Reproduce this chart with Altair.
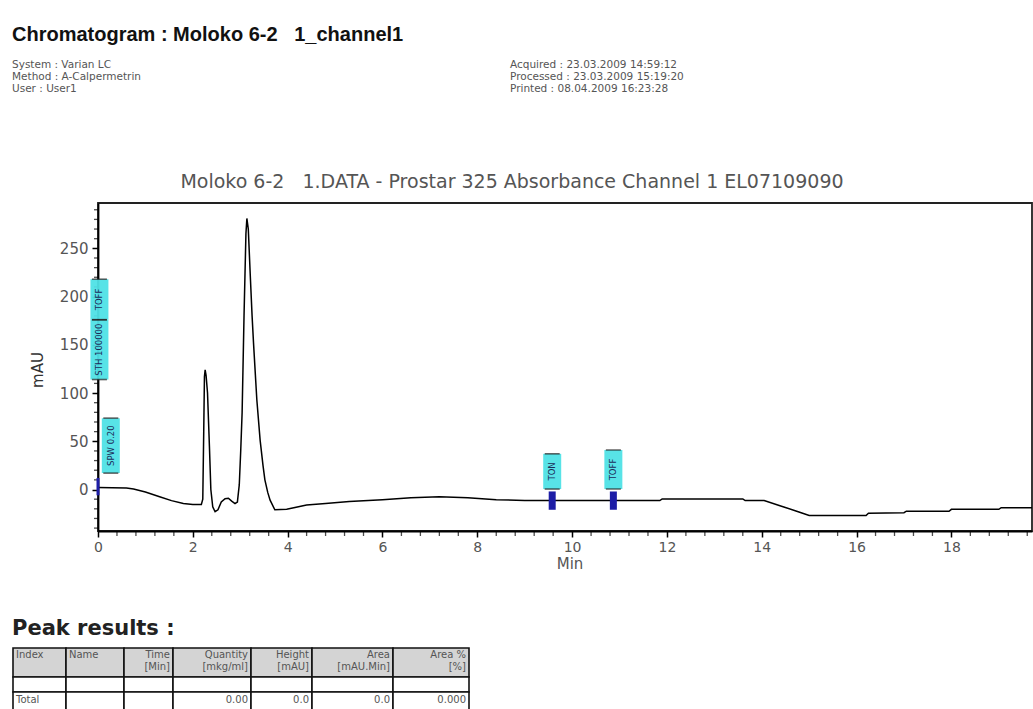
import altair as alt
import numpy as np
import pandas as pd

# ---- chromatogram trace: retention time (min) and absorbance (mAU)
time_min = [0.00, 0.60, 0.75, 1.00, 1.30, 1.55, 1.80, 2.00,
            2.18, 2.21, 2.23, 2.245, 2.26, 2.28, 2.31, 2.35, 2.38, 2.42,
            2.47, 2.53, 2.60, 2.68, 2.75, 2.82, 2.89, 2.94, 2.98, 3.01,
            3.04, 3.08, 3.12, 3.14, 3.17, 3.21, 3.25, 3.28, 3.35, 3.42,
            3.48, 3.52, 3.58, 3.63, 3.73, 3.98, 4.40, 4.80, 5.30, 6.00,
            6.60, 7.20, 7.80, 8.40, 9.00, 11.85, 11.90, 13.60, 13.65, 14.05,
            14.40, 14.80, 15.00, 16.20, 16.25, 17.00, 17.05, 17.95, 18.00, 19.00,
            19.05, 19.70]
signal_mau = [2, 1.5, 0.5, -2.5, -7.5, -11.5, -14.5, -15.5,
              -15.5, -10, 60, 117, 124, 118, 100, 45, 0, -18,
              -23, -21, -13, -9.5, -9, -12, -14.5, -13, 5, 40,
              80, 180, 265, 281, 270, 224, 180, 152, 93, 51,
              25, 10, -3, -11, -21, -20.5, -16, -14.5, -12.5, -10.5,
              -8.5, -7.5, -8.5, -10.5, -11.5, -11.5, -9.7, -9.7, -11.5, -11.5,
              -17, -23.5, -27, -27, -24.5, -24, -22.5, -22.5, -20.5, -20.5,
              -18.8, -18.8]

# ---- timed integration events and the span of their label boxes (mAU)
event_time = [0.03, 0.03, 0.27, 9.58, 10.87]
event_label = ["TOFF", "STH 100000", "SPW 0.20", "TON", "TOFF"]
event_lo = [176, 114, 17, 0.5, 0.5]
event_hi = [218, 176, 74, 37, 41]

# event markers drawn on the baseline
marker_time = [0.0, 9.58, 10.87]
marker_lo = [-6, -21, -21]
marker_hi = [12, -2, -2]
marker_width = [3, 7, 7]

# ---- axes
x_ticks = [0, 2, 4, 6, 8, 10, 12, 14, 16, 18]
y_ticks = [0, 50, 100, 150, 200, 250]
X_DOMAIN = [0, 19.7]
Y_DOMAIN = [-43, 297]

# ---- peak results table
head_top = ["Index", "Name", "Time", "Quantity", "Height", "Area", "Area %"]
head_unit = ["", "", "[Min]", "[mkg/ml]", "[mAU]", "[mAU.Min]", "[%]"]
total_row = ["Total", "", "", "0.00", "0.0", "0.0", "0.000"]
col_align = ["left", "left", "right", "right", "right", "right", "right"]

# ---- page layout (pixels); plot area origin at (PX0, PY0)
W, H = 934, 328
PX0, PY0 = 98, 203
col_edges = [13, 66, 124, 173, 251, 312, 393, 469]
row_edges = [648, 677, 692, 712]

FONT = "DejaVu Sans"
GREY = "#555555"

trace = pd.DataFrame({"t": time_min, "v": signal_mau})
xs = alt.Scale(domain=X_DOMAIN, nice=False, zero=False, padding=0)
ys = alt.Scale(domain=Y_DOMAIN, nice=False, zero=False, padding=0)

x_axis = alt.Axis(values=x_ticks, title=None, labelFont=FONT, labelFontSize=14,
                  labelColor=GREY, labelFlush=False, tickSize=6, tickWidth=1.5,
                  tickColor="black", domainColor="black", domainWidth=1.8,
                  labelPadding=3, grid=False)
y_axis = alt.Axis(values=y_ticks, title=None, labelFont=FONT, labelFontSize=15,
                  labelColor=GREY, tickSize=6, tickWidth=1.5, tickColor="black",
                  domainColor="black", domainWidth=1.8, labelPadding=4, grid=False)

line = alt.Chart(trace).mark_line(color="black", strokeWidth=1.5, clip=True).encode(
    x=alt.X("t:Q", scale=xs, axis=x_axis),
    y=alt.Y("v:Q", scale=ys, axis=y_axis),
)

# minor ticks
x_minor = [round(v, 1) for v in np.arange(0.4, 19.7, 0.4) if abs(v / 2 - round(v / 2)) > 1e-6]
y_minor = [int(v) for v in np.arange(-40, 297, 10) if v % 50 != 0]
xminor = alt.Chart(pd.DataFrame({"t": x_minor})).mark_tick(
    orient="vertical", size=5, thickness=1.3, color="black"
).encode(x=alt.X("t:Q", scale=xs, axis=x_axis), y=alt.value(H + 2.5))
yminor = alt.Chart(pd.DataFrame({"v": y_minor})).mark_tick(
    orient="horizontal", size=4, thickness=1.3, color="black"
).encode(y=alt.Y("v:Q", scale=ys, axis=y_axis), x=alt.value(-2))

# event label boxes
ev = pd.DataFrame({"t": event_time, "label": event_label, "lo": event_lo, "hi": event_hi})
ev["mid"] = (ev["lo"] + ev["hi"]) / 2
ev_edges = pd.DataFrame({"t": event_time * 2, "v": event_lo + event_hi})
ev_box = alt.Chart(ev).mark_bar(width=18, color="#4fe2e6", opacity=0.95).encode(
    x=alt.X("t:Q", scale=xs, axis=x_axis),
    y=alt.Y("lo:Q", scale=ys, axis=y_axis), y2="hi:Q")
ev_bracket = alt.Chart(ev_edges).mark_tick(
    orient="horizontal", size=15, thickness=1.6, color="#222222"
).encode(x=alt.X("t:Q", scale=xs, axis=x_axis), y=alt.Y("v:Q", scale=ys, axis=y_axis))
ev_text = alt.Chart(ev).mark_text(angle=270, font=FONT, fontSize=8.5, color="#1c2c5a").encode(
    x=alt.X("t:Q", scale=xs, axis=x_axis), y=alt.Y("mid:Q", scale=ys, axis=y_axis),
    text="label:N")

mk = pd.DataFrame({"t": marker_time, "lo": marker_lo, "hi": marker_hi, "w": marker_width})
markers = alt.Chart(mk).mark_bar(color="#1d1da6").encode(
    x=alt.X("t:Q", scale=xs, axis=x_axis),
    y=alt.Y("lo:Q", scale=ys, axis=y_axis), y2="hi:Q",
    size=alt.Size("w:Q", scale=None, legend=None))

# ---- free text: report header, plot title, axis titles
def page_text(txt, px, py, size, weight="normal", align="left", angle=0, font=FONT, color=GREY,
              baseline="middle"):
    return alt.Chart(pd.DataFrame({"s": [txt]})).mark_text(
        font=font, fontSize=size, fontWeight=weight, align=align, baseline=baseline,
        angle=angle, color=color
    ).encode(x=alt.value(px - PX0), y=alt.value(py - PY0), text="s:N")

NB = "\u00a0"
texts = [
    page_text("Chromatogram : Moloko 6-2" + NB * 3 + "1_channel1", 12, 41, 20, "bold",
              font="Liberation Sans", color="#111111", baseline="alphabetic"),
    page_text("System : Varian LC", 12, 65, 10.5),
    page_text("Method : A-Calpermetrin", 12, 77, 10.5),
    page_text("User : User1", 12, 89, 10.5),
    page_text("Acquired : 23.03.2009 14:59:12", 510, 65, 10.5),
    page_text("Processed  : 23.03.2009 15:19:20", 510, 77, 10.5),
    page_text("Printed : 08.04.2009 16:23:28", 510, 89, 10.5),
    page_text("Moloko 6-2" + NB * 3 + "1.DATA - Prostar 325 Absorbance Channel 1 EL07109090",
              512, 182, 19, align="center"),
    page_text("mAU", 38, 370, 15, align="center", angle=270, color="#333333"),
    page_text("Min", 570, 564, 15, align="center"),
    page_text("Peak results :", 12, 629, 21, "bold", color="#222222"),
]

# ---- peak results table
cells, labels = [], []
for r in range(3):
    for c in range(7):
        cells.append({"x": col_edges[c] - PX0, "x2": col_edges[c + 1] - PX0,
                      "y": row_edges[r] - PY0, "y2": row_edges[r + 1] - PY0,
                      "fill": "#d4d4d4" if r == 0 else "#ffffff"})
for c in range(7):
    left = col_align[c] == "left"
    tx = (col_edges[c] + 3 if left else col_edges[c + 1] - 3) - PX0
    for txt, ty in ((head_top[c], 655), (head_unit[c], 667), (total_row[c], 700)):
        if txt:
            labels.append({"x": tx, "y": ty - PY0, "s": txt, "a": col_align[c]})
cell_df = pd.DataFrame(cells)
lab_df = pd.DataFrame(labels)

table_cells = alt.Chart(cell_df).mark_rect(stroke="#111111", strokeWidth=1.6).encode(
    x=alt.X("x:Q", scale=None), x2="x2:Q", y=alt.Y("y:Q", scale=None), y2="y2:Q",
    fill=alt.Fill("fill:N", scale=None, legend=None))
table_left = alt.Chart(lab_df[lab_df.a == "left"]).mark_text(
    font=FONT, fontSize=10, color=GREY, align="left", baseline="middle").encode(
    x=alt.X("x:Q", scale=None), y=alt.Y("y:Q", scale=None), text="s:N")
table_right = alt.Chart(lab_df[lab_df.a == "right"]).mark_text(
    font=FONT, fontSize=10, color=GREY, align="right", baseline="middle").encode(
    x=alt.X("x:Q", scale=None), y=alt.Y("y:Q", scale=None), text="s:N")

chart = alt.layer(
    line, xminor, yminor, ev_box, ev_bracket, ev_text, markers,
    *texts, table_cells, table_left, table_right
).properties(
    width=W, height=H, background="white",
    padding={"left": PX0, "top": PY0, "right": 1033 - PX0 - W, "bottom": 709 - PY0 - H},
    autosize=alt.AutoSizeParams(type="none"),
).configure_view(
    stroke="#222222", strokeWidth=1.8
)

chart.save("out.html", embed_options={"renderer": "svg", "actions": False})
